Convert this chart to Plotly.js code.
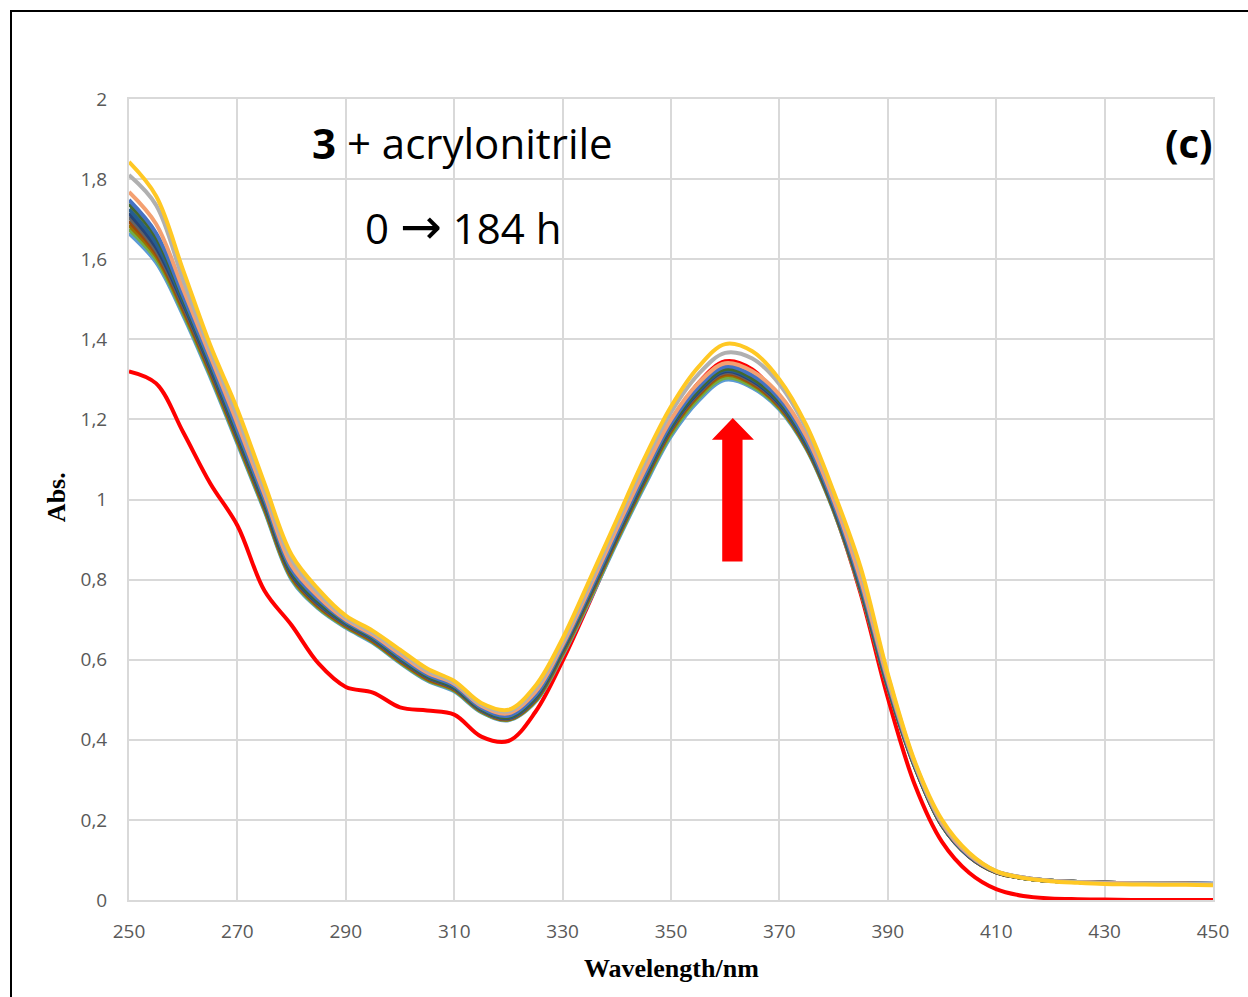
<!DOCTYPE html>
<html>
<head>
<meta charset="utf-8">
<script src="https://cdn.plot.ly/plotly-3.0.1.min.js"></script>
<style>
  html, body { margin: 0; padding: 0; overflow: hidden; background: #fff; }
  #chart { width: 1248px; height: 997px; }
  #frame { position: absolute; left: 10px; top: 10px; width: 1400px; height: 1200px;
           border-left: 2px solid #000; border-top: 2px solid #000; pointer-events: none; }
</style>
</head>
<body>
<div id="chart"></div>
<div id="frame"></div>
<script>
// Wavelength grid (nm)
const wavelength = [250,255,260,265,270,275,280,285,290,295,300,305,310,315,320,325,330,335,340,345,350,355,360,365,370,375,380,385,390,395,400,405,410,415,420,425,430,435,440,445,450];

// Absorbance spectra
const abs_t0 = [1.320,1.290,1.168,1.040,0.935,0.772,0.686,0.590,0.532,0.518,0.481,0.473,0.463,0.408,0.397,0.470,0.597,0.745,0.900,1.055,1.185,1.290,1.345,1.325,1.250,1.140,0.975,0.765,0.505,0.287,0.145,0.068,0.027,0.010,0.004,0.002,0.001,0.000,0.000,0.000,0.000];
const abs_lightblue = [1.665,1.592,1.460,1.306,1.140,0.972,0.800,0.727,0.680,0.642,0.592,0.548,0.521,0.469,0.449,0.495,0.611,0.748,0.893,1.031,1.158,1.246,1.299,1.279,1.225,1.126,0.972,0.772,0.531,0.332,0.186,0.109,0.069,0.055,0.048,0.045,0.043,0.042,0.041,0.040,0.040];
const abs_green = [1.675,1.600,1.466,1.311,1.144,0.975,0.803,0.729,0.682,0.644,0.594,0.550,0.523,0.470,0.450,0.497,0.614,0.752,0.897,1.036,1.164,1.252,1.304,1.283,1.228,1.128,0.974,0.773,0.532,0.332,0.186,0.109,0.069,0.055,0.048,0.045,0.043,0.042,0.041,0.040,0.040];
const abs_darkgold = [1.685,1.608,1.472,1.316,1.148,0.979,0.806,0.732,0.684,0.646,0.596,0.552,0.525,0.472,0.451,0.499,0.617,0.756,0.901,1.041,1.170,1.258,1.310,1.288,1.231,1.130,0.976,0.774,0.533,0.333,0.186,0.109,0.069,0.055,0.048,0.045,0.043,0.042,0.041,0.040,0.040];
const abs_brown = [1.695,1.615,1.478,1.320,1.152,0.982,0.809,0.734,0.686,0.648,0.598,0.554,0.527,0.473,0.452,0.501,0.620,0.759,0.904,1.044,1.174,1.262,1.314,1.291,1.234,1.132,0.978,0.776,0.534,0.333,0.187,0.109,0.069,0.055,0.048,0.045,0.043,0.042,0.041,0.040,0.040];
const abs_darkgray = [1.705,1.622,1.484,1.325,1.156,0.986,0.812,0.737,0.688,0.650,0.600,0.556,0.528,0.474,0.453,0.503,0.622,0.762,0.907,1.047,1.177,1.265,1.317,1.294,1.237,1.135,0.980,0.778,0.535,0.334,0.187,0.110,0.070,0.055,0.048,0.045,0.043,0.042,0.041,0.041,0.040];
const abs_navy = [1.715,1.630,1.490,1.330,1.160,0.990,0.815,0.740,0.690,0.652,0.602,0.558,0.530,0.476,0.455,0.505,0.625,0.765,0.910,1.050,1.180,1.268,1.320,1.297,1.240,1.138,0.982,0.780,0.537,0.335,0.188,0.110,0.070,0.055,0.048,0.045,0.043,0.042,0.041,0.041,0.040];
const abs_darkblue = [1.725,1.640,1.495,1.335,1.164,0.993,0.818,0.742,0.691,0.653,0.603,0.559,0.531,0.477,0.456,0.506,0.626,0.766,0.912,1.052,1.182,1.271,1.323,1.300,1.243,1.140,0.984,0.782,0.538,0.335,0.188,0.110,0.070,0.055,0.048,0.045,0.043,0.042,0.041,0.041,0.040];
const abs_darkgreen = [1.738,1.655,1.502,1.340,1.168,0.996,0.820,0.745,0.693,0.655,0.605,0.560,0.532,0.478,0.457,0.508,0.628,0.768,0.914,1.055,1.185,1.274,1.326,1.303,1.246,1.143,0.986,0.785,0.540,0.336,0.189,0.111,0.070,0.055,0.048,0.045,0.043,0.042,0.041,0.041,0.040];
const abs_blue = [1.748,1.665,1.508,1.345,1.175,1.002,0.826,0.750,0.696,0.658,0.608,0.563,0.535,0.480,0.460,0.512,0.632,0.772,0.918,1.060,1.190,1.280,1.332,1.310,1.252,1.148,0.990,0.790,0.543,0.337,0.190,0.111,0.071,0.056,0.048,0.045,0.043,0.042,0.041,0.041,0.041];
const abs_orange = [1.768,1.688,1.525,1.358,1.190,1.013,0.835,0.757,0.700,0.662,0.614,0.568,0.540,0.485,0.466,0.520,0.638,0.780,0.928,1.070,1.200,1.290,1.340,1.320,1.262,1.158,1.000,0.800,0.550,0.340,0.192,0.113,0.071,0.056,0.048,0.045,0.043,0.042,0.041,0.041,0.040];
const abs_gray = [1.810,1.735,1.548,1.372,1.208,1.027,0.850,0.766,0.705,0.667,0.620,0.573,0.543,0.488,0.471,0.528,0.645,0.790,0.940,1.088,1.218,1.312,1.366,1.352,1.288,1.176,1.015,0.820,0.560,0.342,0.196,0.116,0.072,0.056,0.048,0.045,0.042,0.041,0.041,0.040,0.040];
const abs_gold = [1.843,1.758,1.572,1.385,1.225,1.040,0.862,0.775,0.710,0.672,0.625,0.578,0.547,0.492,0.475,0.535,0.653,0.800,0.950,1.100,1.232,1.330,1.388,1.370,1.300,1.185,1.020,0.830,0.565,0.345,0.200,0.118,0.072,0.055,0.047,0.043,0.040,0.039,0.038,0.038,0.037];

// Series in drawing order with their colours
const seriesList = [
  {name: '0 h', y: abs_t0, color: '#FF0000'},
  {name: 's1', y: abs_lightblue, color: '#5B9BD5'},
  {name: 's2', y: abs_green, color: '#70AD47'},
  {name: 's3', y: abs_darkgold, color: '#997300'},
  {name: 's4', y: abs_brown, color: '#9E480E'},
  {name: 's5', y: abs_darkgray, color: '#636363'},
  {name: 's6', y: abs_navy, color: '#264478'},
  {name: 's7', y: abs_darkblue, color: '#255E91'},
  {name: 's8', y: abs_darkgreen, color: '#43682B'},
  {name: 's9', y: abs_blue, color: '#4472C4'},
  {name: 's10', y: abs_orange, color: '#F4A071'},
  {name: 's11', y: abs_gray, color: '#B0B0B0'},
  {name: '184 h', y: abs_gold, color: '#FFC824'}
];

// Axis ticks
const xTickVals = [250,270,290,310,330,350,370,390,410,430,450];
const yTickVals = [0,0.2,0.4,0.6,0.8,1,1.2,1.4,1.6,1.8,2];
const yTickText = ['0','0,2','0,4','0,6','0,8','1','1,2','1,4','1,6','1,8','2'];

// Red arrow geometry (annotation decoration)
const arrowShaft = [359.45, 363.2];
const arrowHead = [357.55, 365.3];
const arrowTipX = 361.4;
const arrowY = [0.845, 1.149, 1.2035];

const traces = seriesList.map(s => ({
  type: 'scatter', mode: 'lines', x: wavelength, y: s.y, name: s.name,
  line: {color: s.color, width: 4, shape: 'spline', smoothing: 1},
  hoverinfo: 'skip'
}));

const tickFont = {family: 'Open Sans, Noto Sans, sans-serif', size: 19, color: '#595959'};
const gridColor = '#D9D9D9';

const arrowPath = 'M ' + arrowShaft[0] + ' ' + arrowY[0] +
  ' L ' + arrowShaft[0] + ' ' + arrowY[1] +
  ' L ' + arrowHead[0] + ' ' + arrowY[1] +
  ' L ' + arrowTipX + ' ' + arrowY[2] +
  ' L ' + arrowHead[1] + ' ' + arrowY[1] +
  ' L ' + arrowShaft[1] + ' ' + arrowY[1] +
  ' L ' + arrowShaft[1] + ' ' + arrowY[0] + ' Z';

const layout = {
  width: 1248, height: 997,
  margin: {l: 129, r: 35, t: 99, b: 97},
  paper_bgcolor: '#ffffff', plot_bgcolor: '#ffffff',
  showlegend: false,
  xaxis: {
    range: [250, 450], tickvals: xTickVals, ticktext: xTickVals.map(String),
    showgrid: true, gridcolor: gridColor, gridwidth: 2,
    showline: true, linecolor: gridColor, linewidth: 2, mirror: true,
    zeroline: false, ticks: '', tickfont: tickFont, ticklabelstandoff: 13
  },
  yaxis: {
    range: [0, 2], tickvals: yTickVals, ticktext: yTickText,
    showgrid: true, gridcolor: gridColor, gridwidth: 2,
    showline: true, linecolor: gridColor, linewidth: 2, mirror: true,
    zeroline: false, ticks: '', tickfont: tickFont, ticklabelstandoff: 16
  },
  shapes: [
    {type: 'path', xref: 'x', yref: 'y', path: arrowPath,
     fillcolor: '#FF0000', line: {width: 0}, layer: 'above'}
  ],
  annotations: [
    {xref: 'paper', yref: 'paper', x: 0.308, y: 0.946, xanchor: 'center', yanchor: 'middle',
     text: '<b>3</b> + acrylonitrile', showarrow: false,
     font: {family: 'Open Sans, sans-serif', size: 42, color: '#000'}},
    {xref: 'paper', yref: 'paper', x: 0.308, y: 0.840, xanchor: 'center', yanchor: 'middle',
     text: '0 <span style="font-family:DejaVu Sans;font-size:50px">\u2192</span> 184 h', showarrow: false,
     font: {family: 'Open Sans, sans-serif', size: 42, color: '#000'}},
    {xref: 'paper', yref: 'paper', x: 1.002, y: 0.946, xanchor: 'right', yanchor: 'middle',
     text: '<b>(c)</b>', showarrow: false,
     font: {family: 'Open Sans, sans-serif', size: 40, color: '#000'}},
    {xref: 'paper', yref: 'paper', x: 0.5, y: -0.0861, xanchor: 'center', yanchor: 'middle',
     text: '<b>Wavelength/nm</b>', showarrow: false,
     font: {family: 'Liberation Serif, Times New Roman, serif', size: 26, color: '#000'}},
    {xref: 'paper', yref: 'paper', x: -0.0673, y: 0.503, xanchor: 'center', yanchor: 'middle',
     text: '<b>Abs.</b>', showarrow: false, textangle: -90,
     font: {family: 'Liberation Serif, Times New Roman, serif', size: 26, color: '#000'}}
  ]
};

Plotly.newPlot('chart', traces, layout, {staticPlot: true, displayModeBar: false});
</script>
</body>
</html>
